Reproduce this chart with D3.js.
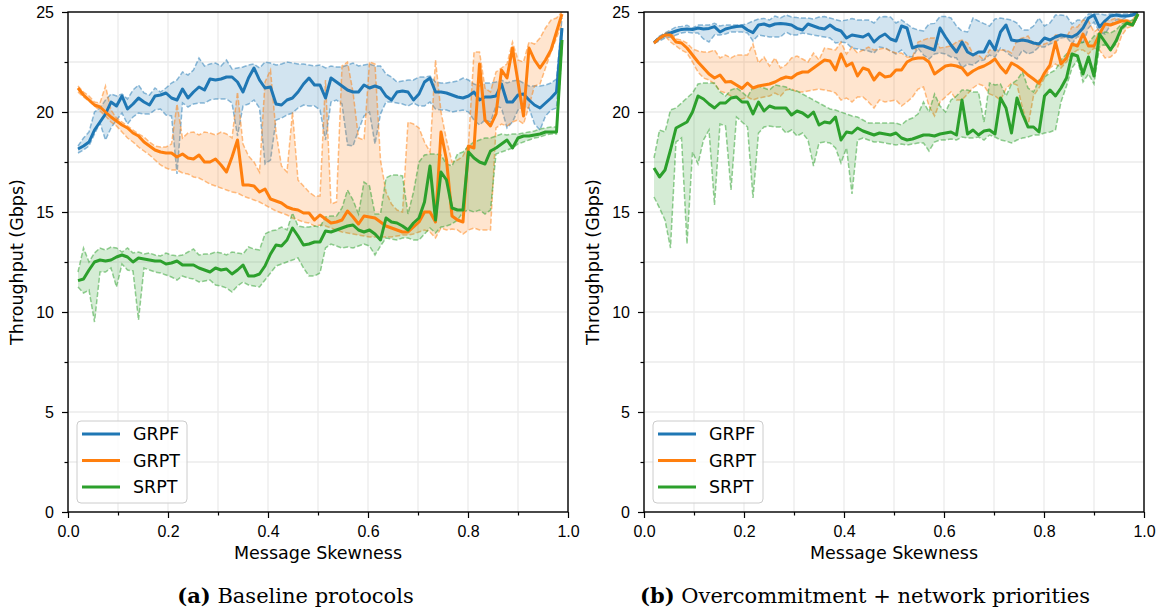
<!DOCTYPE html>
<html>
<head>
<meta charset="utf-8">
<script src="https://cdn.jsdelivr.net/npm/d3@7"></script>
<style>
  body { margin: 0; background: #fff; }
  svg { display: block; font-family: "DejaVu Sans", sans-serif; }
  .tick text { font-size: 16px; fill: #000; }
  .tick line { stroke: #000; stroke-width: 1.2; }
  .domain { display: none; }
</style>
</head>
<body>
<svg id="chart" width="1166" height="614"></svg>
<script>
// message skewness values shared by all series
const skew = [0.020, 0.031, 0.042, 0.053, 0.064, 0.075, 0.086, 0.097, 0.108, 0.119,
  0.130, 0.141, 0.152, 0.163, 0.174, 0.185, 0.196, 0.207, 0.218, 0.229,
  0.240, 0.251, 0.262, 0.273, 0.284, 0.295, 0.306, 0.317, 0.328, 0.339,
  0.350, 0.361, 0.372, 0.383, 0.394, 0.405, 0.416, 0.427, 0.438, 0.449,
  0.460, 0.471, 0.482, 0.493, 0.504, 0.515, 0.526, 0.537, 0.548, 0.559,
  0.570, 0.581, 0.592, 0.603, 0.614, 0.625, 0.636, 0.647, 0.658, 0.669,
  0.680, 0.691, 0.702, 0.713, 0.724, 0.735, 0.746, 0.757, 0.768, 0.779,
  0.790, 0.801, 0.812, 0.823, 0.834, 0.845, 0.856, 0.867, 0.878, 0.889,
  0.900, 0.911, 0.922, 0.933, 0.944, 0.955, 0.966, 0.977, 0.988];

// (a) baseline protocols - throughput in Gbps
const aGrpf = [18.15, 18.3, 18.5, 19.1, 19.5, 19.9, 20.5, 20.3, 20.8, 20.15,
  20.4, 20.7, 20.5, 20.35, 20.8, 20.85, 20.95, 20.7, 20.6, 21.15,
  20.7, 21.0, 21.25, 21.1, 21.65, 21.6, 21.65, 21.75, 21.75, 21.5,
  21.0, 21.7, 22.2, 21.6, 21.2, 21.25, 20.4, 20.35, 20.6, 20.7,
  21.0, 21.4, 21.7, 21.35, 21.35, 20.7, 21.7, 21.5, 21.3, 21.1,
  21.0, 21.0, 21.35, 21.2, 21.3, 21.2, 20.8, 20.6, 21.0, 21.05,
  21.0, 20.6, 20.9, 21.5, 21.7, 21.0, 21.0, 20.95, 20.85, 20.75,
  20.7, 20.8, 21.0, 20.6, 20.75, 20.75, 20.8, 21.4, 20.5, 20.5,
  20.85, 20.9, 20.6, 20.35, 20.2, 20.45, 20.7, 21.0, 24.2];
const aGrpfLo = [17.95, 18.1, 18.3, 18.9, 19.45, 18.6, 19.2, 19.6, 19.95, 19.4,
  19.75, 19.95, 19.9, 19.9, 20.1, 20.15, 19.85, 19.8, 16.9, 20.45,
  20.25, 20.4, 20.45, 20.45, 20.6, 20.65, 20.65, 20.65, 20.45, 18.8,
  20.3, 20.4, 20.6, 20.2, 17.4, 17.6, 19.6, 19.7, 19.85, 19.95,
  20.2, 20.35, 20.3, 20.3, 20.1, 18.6, 20.5, 20.6, 20.4, 18.35,
  18.3, 19.1, 19.8, 20.0, 18.4, 19.9, 20.5, 20.5, 20.45, 20.4,
  20.3, 20.45, 20.3, 20.3, 20.5, 20.15, 20.1, 20.1, 20.0, 20.05,
  20.1, 20.0, 19.6, 19.35, 19.6, 19.5, 20.3, 20.2, 19.2, 19.5,
  20.1, 20.25, 20.2, 19.4, 19.1, 19.8, 20.1, 20.2, 24.0];
const aGrpfHi = [18.3, 18.7, 19.0, 20.0, 20.2, 20.6, 20.9, 20.8, 20.9, 20.65,
  21.1, 21.35, 20.95, 20.85, 21.2, 21.0, 21.2, 21.45, 21.6, 22.0,
  21.85, 22.1, 22.7, 22.3, 22.4, 22.45, 22.3, 22.6, 22.15, 22.2,
  22.25, 22.35, 22.4, 22.2, 22.5, 22.45, 22.35, 22.4, 22.5, 22.45,
  22.4, 22.4, 22.35, 22.3, 22.35, 22.2, 22.3, 22.25, 22.25, 22.35,
  22.45, 22.3, 22.35, 22.4, 22.3, 22.3, 21.9, 21.75, 21.5, 21.55,
  21.6, 21.6, 21.75, 21.75, 21.8, 21.5, 21.45, 21.45, 21.5, 21.55,
  21.7, 21.6, 21.4, 21.3, 21.45, 21.45, 21.5, 21.6, 21.45, 21.55,
  21.6, 21.45, 21.3, 21.3, 21.3, 21.35, 21.45, 21.65, 24.7];

const aGrpt = [21.2, 20.85, 20.6, 20.35, 20.25, 20.0, 19.75, 19.55, 19.35, 19.2,
  18.95, 18.8, 18.5, 18.3, 18.1, 18.0, 17.95, 17.95, 17.75, 17.9,
  17.7, 17.65, 17.85, 17.5, 17.5, 17.65, 17.35, 17.0, 17.75, 18.6,
  16.35, 16.35, 16.3, 16.0, 16.15, 15.65, 15.55, 15.45, 15.25, 15.15,
  15.1, 14.95, 14.95, 14.6, 14.85, 14.65, 14.45, 14.5, 14.6, 15.05,
  14.75, 14.4, 14.8, 14.75, 14.7, 14.5, 14.3, 14.2, 14.1, 14.0,
  14.0, 14.25, 14.5, 15.0, 15.0, 14.5, 19.0, 17.6, 14.8, 14.6,
  14.5, 18.3, 18.2, 22.4, 19.6, 19.3, 19.9, 22.1, 21.7, 23.2,
  21.5, 19.8, 23.2, 22.6, 22.2, 22.6, 23.1, 24.0, 24.9];
const aGrptLo = [21.0, 20.75, 20.55, 20.3, 20.05, 19.8, 19.5, 19.3, 19.0, 18.7,
  18.5, 18.25, 18.05, 17.85, 17.6, 17.35, 17.2, 17.1, 17.1, 16.95,
  16.9, 16.75, 16.7, 16.55, 16.4, 16.3, 16.2, 16.1, 16.0, 15.95,
  15.8, 15.7, 15.6, 15.5, 15.35, 15.2, 15.05, 14.95, 14.85, 14.7,
  14.6, 14.5, 14.45, 14.3, 14.35, 14.3, 14.2, 14.1, 14.0, 13.95,
  13.9, 13.85, 13.8, 13.75, 13.75, 13.75, 13.75, 13.75, 13.8, 13.85,
  13.85, 13.9, 14.0, 14.1, 14.0, 13.7, 14.2, 14.1, 14.15, 14.1,
  13.9, 14.1, 14.2, 14.1, 14.1, 14.1, 19.2, 19.4, 19.3, 19.5,
  19.6, 19.4, 20.3, 21.3, 21.4, 22.2, 23.0, 23.7, 24.4];
const aGrptHi = [21.3, 21.0, 20.8, 20.5, 20.45, 21.3, 20.1, 19.7, 19.5, 19.3,
  19.1, 18.9, 18.75, 18.5, 18.3, 18.25, 18.25, 18.4, 20.4, 18.7,
  18.95, 19.0, 18.85, 19.0, 18.95, 18.85, 19.0, 18.9, 18.7, 21.0,
  18.4, 17.8, 17.5, 17.0, 21.5, 22.1, 19.0, 17.3, 17.0, 20.0,
  16.6, 16.3, 16.0, 15.8, 15.8, 21.6, 15.4, 15.5, 22.3, 22.5,
  21.0, 18.7, 18.6, 22.5, 22.4, 17.6, 16.0, 15.4, 15.1, 15.0,
  19.5, 19.4, 19.2, 18.5, 18.0, 22.6, 20.0, 18.6, 17.5, 17.6,
  17.8, 18.4, 23.0, 23.0, 21.2, 21.0, 22.0, 22.2, 22.4, 23.5,
  22.6, 22.5, 23.5, 23.4, 23.7, 24.2, 24.6, 24.7, 25.0];

const aSrpt = [11.57, 11.65, 12.1, 12.5, 12.6, 12.55, 12.6, 12.75, 12.85, 12.75,
  12.5, 12.7, 12.65, 12.6, 12.55, 12.55, 12.4, 12.45, 12.55, 12.35,
  12.35, 12.35, 12.2, 12.1, 12.0, 12.2, 12.1, 12.15, 11.9, 12.1,
  12.35, 11.8, 11.8, 11.9, 12.3, 12.9, 13.35, 13.3, 13.6, 14.2,
  13.8, 13.35, 13.4, 13.5, 13.5, 14.05, 14.0, 14.1, 14.2, 14.3,
  14.35, 14.1, 14.0, 14.1, 13.9, 13.6, 14.7, 14.5, 14.45, 14.3,
  14.1, 14.45, 14.7, 15.5, 17.3, 14.6, 17.0, 16.6, 15.2, 15.1,
  15.1, 18.0, 17.7, 17.5, 17.4, 18.05, 18.2, 18.4, 18.6, 18.2,
  18.7, 18.8, 18.8, 18.85, 18.9, 19.0, 19.0, 19.0, 23.6];
const aSrptLo = [11.25, 10.95, 11.1, 9.5, 12.0, 12.0, 12.2, 11.25, 12.4, 12.1,
  12.05, 9.6, 12.2, 12.1, 12.0, 11.95, 11.85, 11.75, 11.6, 11.8,
  11.7, 11.65, 11.5, 11.55, 11.6, 11.35, 11.3, 11.2, 11.0, 11.3,
  11.5, 11.35, 11.3, 11.25, 11.6, 11.95, 12.3, 12.4, 12.5, 12.6,
  12.7, 12.2, 11.8, 11.8, 11.95, 13.2, 13.4, 13.3, 13.2, 13.25,
  13.2, 13.3, 13.4, 13.3, 12.85, 13.3, 13.7, 13.65, 13.6, 13.7,
  13.7, 13.6, 13.6, 13.9, 14.2, 13.95, 14.25, 14.3, 14.4, 14.6,
  15.0, 15.1, 15.0, 15.1, 14.9, 15.1, 17.9, 18.0, 18.1, 18.2,
  18.4, 18.5, 18.6, 18.7, 18.75, 18.85, 18.9, 18.9, 23.2];
const aSrptHi = [12.0, 13.2, 12.5, 12.95, 13.2, 13.1, 13.25, 13.2, 13.0, 13.2,
  12.95, 13.0, 12.9, 12.95, 12.85, 12.8, 12.95, 12.85, 12.8, 12.85,
  13.0, 13.15, 12.85, 12.9, 12.9, 13.0, 12.95, 12.85, 13.0, 12.95,
  12.9, 13.25, 13.15, 13.1, 13.9, 14.05, 14.1, 14.25, 14.1, 14.95,
  14.3, 14.25, 14.25, 14.3, 14.25, 14.75, 14.8, 14.8, 15.2, 16.1,
  15.6, 14.9, 16.5, 16.3, 14.9, 14.9, 16.7, 16.85, 16.85, 16.8,
  14.9, 16.0, 17.5, 17.85, 17.9, 17.9, 17.85, 17.4, 17.3, 17.9,
  18.0, 18.3, 18.5, 18.6, 18.7, 18.7, 18.8, 18.9, 18.85, 18.9,
  18.9, 18.95, 19.0, 19.05, 19.15, 19.2, 19.25, 19.25, 24.0];

// (b) overcommitment + network priorities
const bGrpf = [23.47, 23.7, 23.85, 23.95, 24.05, 24.13, 24.15, 24.12, 24.2, 24.15,
  24.18, 24.27, 24.0, 24.15, 24.22, 24.27, 24.3, 24.1, 23.97, 24.35,
  24.4, 24.3, 24.4, 24.43, 24.4, 24.35, 24.18, 24.1, 24.4, 24.3,
  24.2, 24.15, 24.35, 24.15, 24.05, 23.7, 23.85, 23.8, 23.75, 23.9,
  23.5, 23.75, 23.9, 23.65, 23.55, 24.3, 24.2, 23.2, 23.3, 23.3,
  23.2, 23.1, 24.2, 23.75, 23.35, 23.0, 23.5, 23.0, 22.85, 23.0,
  23.0, 23.55, 23.1, 24.0, 24.35, 23.6, 23.55, 23.6, 23.55, 23.45,
  23.4, 23.7, 23.6, 23.75, 23.85, 23.8, 23.75, 23.9, 24.2, 24.7,
  24.85, 24.25, 24.55, 24.8, 24.85, 24.8, 24.8, 24.85, 24.95];
const bGrpfLo = [23.45, 23.55, 23.7, 23.75, 23.85, 23.95, 24.0, 23.95, 23.95, 23.65,
  23.5, 23.85, 23.85, 23.9, 24.0, 24.0, 24.0, 23.95, 23.55, 23.85,
  23.8, 23.75, 23.75, 23.75, 24.0, 23.85, 23.85, 23.95, 23.9, 23.85,
  23.8, 23.75, 23.7, 23.45, 23.5, 23.45, 23.2, 23.15, 23.1, 23.05,
  22.95, 23.25, 23.2, 23.05, 22.9, 23.1, 22.8, 22.75, 23.2, 22.85,
  22.65, 22.9, 22.95, 22.9, 22.75, 22.7, 22.2, 22.4, 22.35, 22.55,
  22.6, 22.85, 22.75, 23.2, 23.0, 22.8, 22.65, 23.1, 22.9, 23.0,
  23.25, 23.25, 23.4, 23.5, 23.7, 23.75, 23.4, 23.8, 23.4, 24.2,
  24.5, 24.0, 23.9, 24.35, 24.6, 24.6, 24.75, 24.8, 24.9];
const bGrpfHi = [23.5, 23.8, 23.95, 24.1, 24.25, 24.28, 24.33, 24.2, 24.35, 24.35,
  24.35, 24.43, 24.3, 24.35, 24.35, 24.35, 24.35, 24.42, 24.55, 24.65,
  24.68, 24.6, 24.8, 24.7, 24.85, 24.75, 24.72, 24.7, 24.7, 24.65,
  24.75, 24.77, 24.7, 24.62, 24.55, 24.6, 24.67, 24.6, 24.6, 24.6,
  24.45, 24.75, 24.77, 24.75, 24.45, 24.6, 24.4, 24.2, 24.1, 24.05,
  24.4, 24.43, 24.77, 24.77, 24.7, 24.3, 24.05, 24.0, 24.7, 24.55,
  24.42, 24.3, 24.65, 24.7, 24.65, 24.6, 24.45, 24.1, 24.1, 24.3,
  24.7, 24.3, 24.45, 24.85, 24.85, 24.8, 24.4, 24.6, 24.6, 24.9,
  24.9, 24.9, 24.85, 24.9, 24.9, 24.9, 24.9, 24.95, 25.0];

const bGrpt = [23.45, 23.7, 23.85, 23.85, 23.5, 23.45, 23.2, 22.85, 22.5, 22.2,
  21.9, 21.7, 21.85, 21.5, 21.52, 21.35, 21.18, 21.45, 21.2, 21.3,
  21.35, 21.4, 21.5, 21.65, 21.75, 21.7, 21.9, 22.0, 22.0, 22.2,
  22.4, 22.6, 22.55, 22.1, 22.9, 22.3, 22.45, 21.8, 22.2, 22.1,
  21.6, 21.95, 21.75, 21.8, 22.1, 22.1, 22.5, 22.65, 22.7, 22.7,
  22.5, 21.9, 22.1, 22.3, 22.35, 22.3, 22.2, 21.85, 22.05, 22.2,
  22.3, 22.45, 22.65, 22.25, 21.95, 22.45, 22.3, 22.1, 21.85, 21.65,
  21.43, 21.95, 22.35, 23.5, 22.4, 22.7, 23.4, 23.3, 23.9, 23.3,
  23.3, 23.9, 24.4, 24.35, 24.45, 24.55, 24.55, 24.35, 24.9];
const bGrptLo = [23.4, 23.6, 23.8, 23.5, 23.3, 23.1, 22.95, 22.5, 22.0, 21.7,
  21.6, 21.4, 21.05, 20.95, 20.8, 20.7, 20.65, 20.75, 20.6, 20.7,
  20.75, 20.8, 20.95, 20.8, 21.1, 21.15, 21.0, 21.0, 21.05, 21.1,
  21.15, 21.1, 21.05, 20.95, 20.6, 20.7, 20.5, 20.75, 20.75, 20.5,
  20.2, 20.6, 20.5, 20.55, 20.6, 20.3, 20.5, 20.75, 21.15, 21.25,
  20.3, 19.8, 20.5, 20.75, 21.0, 20.6, 20.6, 20.9, 21.2, 21.4,
  21.3, 20.9, 20.8, 20.6, 21.15, 21.45, 21.35, 20.2, 19.3, 20.8,
  21.2, 21.7, 22.2, 22.4, 22.2, 22.5, 22.9, 23.1, 23.1, 22.9,
  23.2, 23.1, 22.7, 22.75, 23.0, 23.8, 24.2, 24.3, 24.9];
const bGrptHi = [23.5, 23.75, 23.95, 24.0, 23.65, 23.6, 23.45, 23.15, 23.05, 23.0,
  23.0, 23.1, 22.7, 22.85, 22.7, 22.85, 22.85, 22.85, 23.4, 22.45,
  22.75, 22.3, 22.7, 22.2, 22.35, 22.7, 22.8, 22.65, 22.5, 22.95,
  22.6, 23.2, 23.15, 23.1, 23.5, 22.9, 23.25, 22.95, 23.1, 23.25,
  23.1, 23.15, 23.2, 23.05, 22.95, 22.95, 22.75, 22.75, 23.5, 23.6,
  23.7, 23.7, 23.2, 23.25, 23.3, 23.5, 23.6, 23.45, 22.9, 22.85,
  22.6, 23.1, 23.1, 23.1, 23.1, 22.95, 23.6, 23.7, 23.8, 23.4,
  23.3, 23.4, 23.5, 23.85, 23.85, 23.75, 24.25, 24.25, 24.6, 24.55,
  24.0, 24.2, 24.6, 24.6, 24.7, 24.6, 24.6, 24.6, 25.0];

const bSrpt = [17.2, 16.75, 17.1, 18.1, 19.2, 19.35, 19.5, 20.0, 20.8, 20.65,
  20.4, 20.2, 20.45, 20.45, 20.7, 20.75, 20.5, 20.5, 19.9, 20.5,
  20.05, 20.3, 20.2, 20.2, 20.2, 19.85, 20.05, 19.95, 19.75, 20.0,
  19.35, 19.5, 19.45, 19.75, 18.6, 19.0, 18.95, 19.2, 19.05, 18.95,
  18.85, 18.95, 18.9, 18.85, 18.95, 18.7, 18.6, 18.65, 18.75, 18.85,
  18.85, 18.8, 18.9, 18.95, 19.0, 18.85, 20.6, 18.9, 19.1, 18.85,
  19.05, 19.1, 18.9, 20.7, 20.2, 18.95, 20.7, 19.9, 19.25, 19.25,
  19.0, 20.8, 21.1, 20.8, 21.2, 21.7, 22.9, 22.8, 21.9, 22.75,
  21.8, 23.9, 23.5, 23.1, 23.55, 24.2, 24.45, 24.35, 24.9];
const bSrptLo = [15.75, 15.2, 14.6, 13.2, 18.5, 18.7, 13.4, 18.0, 17.4, 18.6,
  19.1, 15.35, 19.4, 19.3, 16.1, 19.75, 19.5, 19.25, 15.7, 18.95,
  19.25, 19.3, 19.25, 19.25, 18.95, 19.1, 18.8, 18.95, 18.6, 17.3,
  18.45, 18.5, 18.45, 18.2, 17.45, 18.2, 15.9, 18.6, 18.7, 18.6,
  18.5, 18.5, 18.45, 18.4, 18.35, 18.4, 18.35, 18.4, 18.45, 18.45,
  18.05, 18.5, 18.6, 18.6, 18.65, 18.6, 18.75, 18.7, 18.7, 18.75,
  18.6, 18.85, 18.75, 18.6, 18.55, 18.45, 18.6, 18.7, 18.75, 18.85,
  18.85, 18.95, 19.0, 19.1, 20.5, 21.3, 22.2, 22.6, 21.5, 21.9,
  21.4, 23.25, 23.4, 23.1, 23.4, 24.1, 24.35, 24.35, 24.9];
const bSrptHi = [17.7, 19.1, 19.0, 20.1, 20.2, 20.45, 20.7, 20.95, 21.4, 21.45,
  21.45, 21.45, 21.0, 20.8, 21.1, 21.2, 21.0, 20.75, 21.25, 21.3,
  21.2, 21.1, 21.35, 21.3, 21.25, 21.1, 21.05, 20.9, 20.75, 20.6,
  20.45, 20.3, 20.15, 20.1, 20.0, 19.9, 19.8, 19.75, 19.6, 19.45,
  19.45, 19.45, 19.45, 19.45, 19.45, 19.35, 19.6, 19.7, 19.9, 20.5,
  20.0, 20.9, 20.3, 20.0, 20.6, 20.8, 21.1, 21.1, 21.0, 21.0,
  19.5, 21.45, 21.35, 21.4, 20.8, 21.4, 21.6, 22.0, 21.2, 21.0,
  21.6, 21.75, 21.95, 22.1, 22.6, 22.9, 23.3, 23.4, 23.5, 23.45,
  23.8, 23.95, 24.0, 23.95, 24.1, 24.4, 24.5, 24.6, 24.95];

const names = ["GRPF", "GRPT", "SRPT"];
const colors = ["#1f77b4", "#ff7f0e", "#2ca02c"];
const xMajor = [0, 0.2, 0.4, 0.6, 0.8, 1.0];
const xMinor = [0.1, 0.3, 0.5, 0.7, 0.9];
const yMajor = [0, 5, 10, 15, 20, 25];
const yMinor = [2.5, 7.5, 12.5, 17.5, 22.5];

const svg = d3.select("#chart");
const W = 500, H = 500;
const x = d3.scaleLinear().domain([0, 1]).range([0, W]);
const y = d3.scaleLinear().domain([0, 25]).range([H, 0]);

function drawPanel(left, id, series, tag, caption, capX) {
    const g = svg.append("g").attr("transform", "translate(" + left + ",12)");
    g.append("clipPath").attr("id", id)
        .append("rect").attr("width", W).attr("height", H);

    // grid on every tick, major and minor
    g.append("g").selectAll("line")
        .data(xMajor.concat(xMinor))
        .join("line")
        .attr("x1", d => x(d)).attr("x2", d => x(d))
        .attr("y1", 0).attr("y2", H)
        .attr("stroke", "#ebebeb").attr("stroke-width", 1.3);
    g.append("g").selectAll("line")
        .data(yMajor.concat(yMinor))
        .join("line")
        .attr("x1", 0).attr("x2", W)
        .attr("y1", d => y(d)).attr("y2", d => y(d))
        .attr("stroke", "#ebebeb").attr("stroke-width", 1.3);

    const plot = g.append("g").attr("clip-path", "url(#" + id + ")");

    const area = d3.area().x(d => x(d.x)).y0(d => y(d.lo)).y1(d => y(d.hi));
    const line = key => d3.line().x(d => x(d.x)).y(d => y(d[key]));

    const rows = series.map(s => skew.map((v, i) => ({x: v, m: s[0][i], lo: s[1][i], hi: s[2][i]})));

    // bands with dashed min / max edges
    rows.forEach((pts, k) => {
        plot.append("path").datum(pts)
            .attr("d", area)
            .attr("fill", colors[k]).attr("fill-opacity", 0.2);
        ["lo", "hi"].forEach(key => {
            plot.append("path").datum(pts)
                .attr("d", line(key))
                .attr("fill", "none")
                .attr("stroke", colors[k]).attr("stroke-opacity", 0.5)
                .attr("stroke-width", 1.5)
                .attr("stroke-dasharray", "5,2.2");
        });
    });

    // mean lines
    rows.forEach((pts, k) => {
        plot.append("path").datum(pts)
            .attr("d", line("m"))
            .attr("fill", "none")
            .attr("stroke", colors[k])
            .attr("stroke-width", 3)
            .attr("stroke-linejoin", "round");
    });

    // frame
    g.append("rect").attr("width", W).attr("height", H)
        .attr("fill", "none").attr("stroke", "#000").attr("stroke-width", 1.4);

    // axes
    g.append("g").attr("transform", "translate(0," + H + ")")
        .call(d3.axisBottom(x).tickValues(xMajor).tickFormat(d3.format(".1f")).tickSize(6).tickPadding(8));
    g.append("g").attr("transform", "translate(0," + H + ")")
        .call(d3.axisBottom(x).tickValues(xMinor).tickFormat("").tickSize(3.5));
    g.append("g")
        .call(d3.axisLeft(y).tickValues(yMajor).tickFormat(d3.format("d")).tickSize(6).tickPadding(8));
    g.append("g")
        .call(d3.axisLeft(y).tickValues(yMinor).tickFormat("").tickSize(3.5));

    // axis labels
    g.append("text")
        .attr("x", W / 2).attr("y", H + 47)
        .attr("text-anchor", "middle")
        .style("font-size", "17.5px")
        .text("Message Skewness");
    g.append("text")
        .attr("transform", "translate(-51.5," + (H / 2) + ") rotate(-90)")
        .attr("text-anchor", "middle")
        .attr("dominant-baseline", "central")
        .style("font-size", "17.5px")
        .text("Throughput (Gbps)");

    // legend
    const lg = g.append("g").attr("transform", "translate(9,409)");
    lg.append("rect")
        .attr("width", 110).attr("height", 82).attr("rx", 4)
        .attr("fill", "#fff").attr("fill-opacity", 0.8)
        .attr("stroke", "#cccccc").attr("stroke-width", 1);
    names.forEach((n, k) => {
        const yy = 13 + k * 26.5;
        lg.append("line")
            .attr("x1", 5).attr("x2", 43).attr("y1", yy).attr("y2", yy)
            .attr("stroke", colors[k]).attr("stroke-width", 3);
        lg.append("text")
            .attr("x", 56).attr("y", yy)
            .attr("dominant-baseline", "central")
            .style("font-size", "17.5px")
            .text(n);
    });

    // caption under the panel
    const cap = svg.append("text")
        .attr("x", capX).attr("y", 603)
        .attr("text-anchor", "middle")
        .style("font-family", "'DejaVu Serif', serif")
        .style("font-size", "21px");
    cap.append("tspan").style("font-weight", "bold").text(tag);
    cap.append("tspan").text(" " + caption);
}

drawPanel(68, "clipA",
    [[aGrpf, aGrpfLo, aGrpfHi], [aGrpt, aGrptLo, aGrptHi], [aSrpt, aSrptLo, aSrptHi]],
    "(a)", "Baseline protocols", 295.5);
drawPanel(644, "clipB",
    [[bGrpf, bGrpfLo, bGrpfHi], [bGrpt, bGrptLo, bGrptHi], [bSrpt, bSrptLo, bSrptHi]],
    "(b)", "Overcommitment + network priorities", 865);
</script>
</body>
</html>
